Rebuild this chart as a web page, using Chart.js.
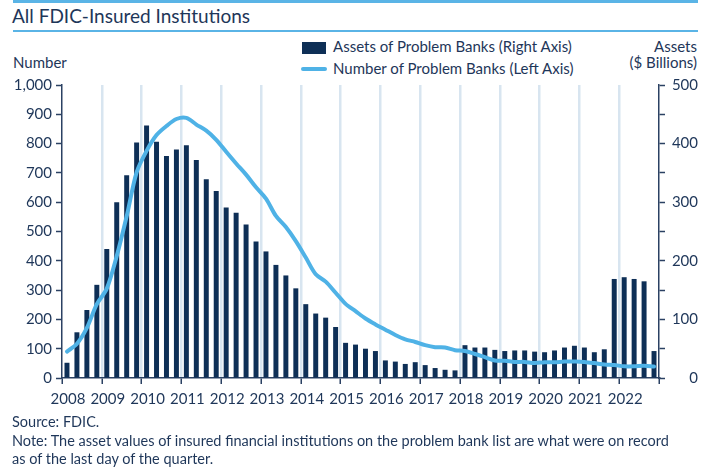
<!DOCTYPE html>
<html><head><meta charset="utf-8">
<script src="https://cdn.jsdelivr.net/npm/chart.js@4.4.0/dist/chart.umd.min.js"></script>
<style>
html,body{margin:0;padding:0;background:#fff;}
#wrap{position:relative;width:712px;height:469px;overflow:hidden;font-family:Lato,"Source Sans Pro",sans-serif;color:#1e3659;}
#c{position:absolute;left:0;top:0;}
.t{position:absolute;white-space:nowrap;line-height:1;}
.rule{position:absolute;left:13px;width:685px;background:#5ab4e6;}
</style></head><body>
<div id="wrap">
<div class="rule" style="top:0;height:3px"></div>
<div class="t" style="left:12px;top:6.4px;font-size:19px">All FDIC-Insured Institutions</div>
<div class="rule" style="top:30px;height:2px"></div>
<div class="t" style="left:13px;top:55px;font-size:15px">Number</div>
<div style="position:absolute;left:302px;top:42px;width:24px;height:12px;background:#0e2f56"></div>
<div class="t" style="left:333px;top:39px;font-size:15px">Assets of Problem Banks (Right Axis)</div>
<div style="position:absolute;left:301px;top:66.5px;width:26px;height:4px;border-radius:2px;background:#4fb2e6"></div>
<div class="t" style="left:333px;top:61px;font-size:15px">Number of Problem Banks (Left Axis)</div>
<div class="t" style="right:15px;top:39px;font-size:15px;text-align:right">Assets</div>
<div class="t" style="right:15px;top:55px;font-size:15px;text-align:right">($ Billions)</div>
<canvas id="c" width="712" height="469"></canvas>
<div class="t" style="left:12px;top:415px;font-size:14.5px">Source: FDIC.</div>
<div class="t" style="left:12px;top:434px;font-size:14.5px">Note: The asset values of insured financial institutions on the problem bank list are what were on record</div>
<div class="t" style="left:12px;top:452px;font-size:14.5px">as of the last day of the quarter.</div>
</div>
<script>
const years = [2008,2009,2010,2011,2012,2013,2014,2015,2016,2017,2018,2019,2020,2021,2022];
const quarterNames = ['Q1','Q2','Q3','Q4'];
const categories = years.flatMap(y => quarterNames.map(q => y + ' ' + q));
// Assets of problem banks, $ billions (right axis)
const assets = [26,78,116,159, 220,300,346,402, 431,403,379,390, 397,372,339,319,
  291,282,262,233, 216,193,175,153, 126,110,103,87, 60,57,50,46,
  30,28,24,27, 22,17,14,13, 56,52,52,48, 46,47,47,45,
  44,47,52,55, 52,44,49,169, 172,169,165,46];
// Number of problem banks (left axis)
const problemBanks = [90,117,171,252, 305,416,552,702, 775,829,860,884, 888,865,844,813,
  772,732,694,651, 612,553,515,467, 411,354,329,291, 253,228,203,183,
  165,147,132,123, 112,105,104,95, 92,82,71,60, 59,55,55,51,
  54,54,56,56, 55,51,46,44, 40,40,42,39];
const yearTickMin = 2008, yearTickMax = 2023;

const ink = '#1e3659', axisInk = '#2b4163', gridBlue = '#d8e5f0';
const tickFont = {family: 'Lato, sans-serif', size: 15};

new Chart(document.getElementById('c'), {
  data: {
    labels: categories,
    datasets: [
      {type: 'line', label: 'Number of Problem Banks (Left Axis)', data: problemBanks,
       xAxisID: 'x', yAxisID: 'y', borderColor: '#4fb2e6', borderWidth: 4,
       pointRadius: 0, tension: 0.3, order: 0, borderCapStyle: 'round'},
      {type: 'bar', label: 'Assets of Problem Banks (Right Axis)', data: assets,
       xAxisID: 'x', yAxisID: 'yR', backgroundColor: '#0e2f56',
       barPercentage: 0.5, categoryPercentage: 1.0, order: 1}
    ]
  },
  options: {
    responsive: false, animation: false, devicePixelRatio: 1,
    layout: {padding: {left: 0, right: 14, top: 85, bottom: 0}},
    plugins: {legend: {display: false}, tooltip: {enabled: false}},
    scales: {
      x: {type: 'category', display: false, offset: true},
      x2: {type: 'linear', position: 'bottom', min: yearTickMin, max: yearTickMax,
        afterFit: s => { s.height = 91; },
        ticks: {stepSize: 1, autoSkip: false, maxRotation: 0, color: ink, font: tickFont,
          padding: 6, labelOffset: 6,
          callback: v => v === yearTickMax ? '' : String(v)},
        grid: {color: c => (c.tick && (c.tick.value === yearTickMin || c.tick.value === yearTickMax)) ? 'rgba(0,0,0,0)' : gridBlue,
          lineWidth: 2.5, drawTicks: true, tickLength: 6, tickColor: axisInk, tickWidth: 1.5},
        border: {display: true, color: axisInk, width: 1.5}
      },
      y: {type: 'linear', position: 'left', min: 0, max: 1000,
        afterFit: s => { s.width = 62; },
        ticks: {stepSize: 100, color: ink, font: tickFont, padding: 4,
          callback: v => v.toLocaleString('en-US')},
        grid: {drawOnChartArea: false, drawTicks: true, tickLength: 6, tickColor: axisInk, tickWidth: 1.5},
        border: {display: true, color: axisInk, width: 1.5}
      },
      yR: {type: 'linear', position: 'right', min: 0, max: 500,
        afterFit: s => { s.width = 39; },
        ticks: {stepSize: 50, autoSkip: false, color: ink, font: tickFont, crossAlign: 'far',
          callback: v => v % 100 === 0 ? String(v) : ''},
        grid: {drawOnChartArea: false, drawTicks: true, tickLength: 6, tickColor: axisInk, tickWidth: 1.5},
        border: {display: true, color: axisInk, width: 1.5}
      }
    }
  }
});
</script>
</body></html>
